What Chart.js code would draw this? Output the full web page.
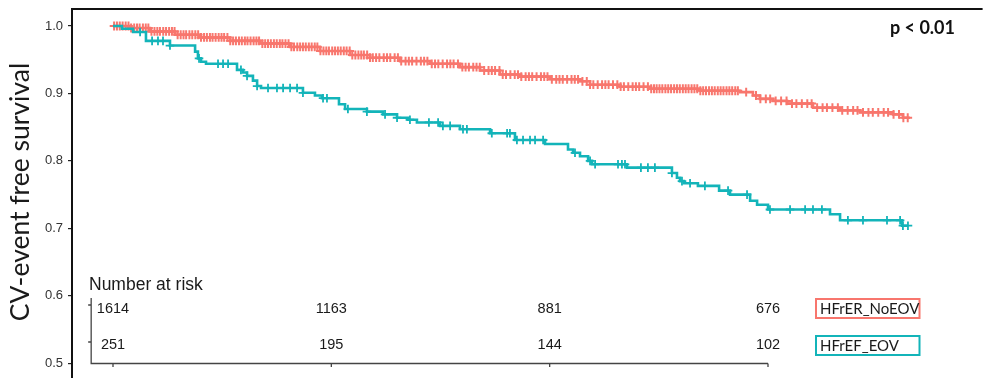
<!DOCTYPE html>
<html><head><meta charset="utf-8">
<script src="https://cdn.jsdelivr.net/npm/chart.js@4.4.1/dist/chart.umd.min.js"></script>
<style>html,body{margin:0;padding:0;background:#fff;overflow:hidden;width:989px;height:378px}canvas{display:block}</style>
</head><body>
<canvas id="c" width="989" height="400"></canvas>
<script>
// ---------- data ----------
const groupNames = ['HFrER_NoEOV', 'HFrEF_EOV'];
const groupColors = ['#F8766D', '#13B4B9'];

// Kaplan-Meier steps (time in years, survival after the step)
const noEovTimes = [0, 0.078, 0.169, 0.284, 0.398, 0.536, 0.673, 0.811, 0.948, 1.086, 1.177, 1.315, 1.452, 1.589, 1.681, 1.772, 1.864, 2.002, 2.139, 2.185, 2.322, 2.460, 2.689, 2.872, 2.931, 2.963, 3.023, 3.087, 3.206, 3.330, 3.421, 3.573, 3.618, 3.650];
const noEovSurv  = [1.000, 0.997, 0.992, 0.987, 0.983, 0.978, 0.974, 0.969, 0.963, 0.957, 0.953, 0.948, 0.944, 0.939, 0.934, 0.928, 0.925, 0.921, 0.918, 0.913, 0.910, 0.907, 0.904, 0.902, 0.897, 0.892, 0.889, 0.885, 0.879, 0.875, 0.872, 0.869, 0.864, 0.864];

const eovTimes = [0, 0.041, 0.092, 0.151, 0.261, 0.376, 0.389, 0.403, 0.426, 0.568, 0.595, 0.614, 0.641, 0.660, 0.678, 0.870, 0.925, 0.957, 1.035, 1.063, 1.163, 1.237, 1.301, 1.351, 1.392, 1.498, 1.589, 1.727, 1.841, 1.979, 2.084, 2.107, 2.139, 2.176, 2.194, 2.354, 2.560, 2.583, 2.597, 2.615, 2.679, 2.776, 2.826, 2.918, 2.950, 3.000, 3.284, 3.330, 3.614, 3.641];
const eovSurv  = [1.000, 0.996, 0.991, 0.978, 0.971, 0.962, 0.952, 0.947, 0.944, 0.935, 0.931, 0.926, 0.919, 0.911, 0.908, 0.901, 0.897, 0.893, 0.884, 0.877, 0.873, 0.869, 0.864, 0.861, 0.857, 0.852, 0.847, 0.841, 0.831, 0.825, 0.817, 0.812, 0.807, 0.800, 0.795, 0.790, 0.782, 0.775, 0.770, 0.767, 0.763, 0.756, 0.750, 0.741, 0.735, 0.728, 0.721, 0.712, 0.704, 0.704];

// censoring times (years)
const noEovCensor = [0.005,0.018,0.031,0.044,0.058,0.071,0.083,0.097,0.11,0.122,0.137,0.15,0.162,0.176,0.19,0.203,0.215,0.23,0.243,0.257,0.27,0.282,0.296,0.31,0.323,0.335,0.35,0.363,0.377,0.39,0.403,0.417,0.43,0.444,0.456,0.47,0.484,0.497,0.509,0.524,0.537,0.55,0.563,0.577,0.59,0.604,0.616,0.63,0.644,0.657,0.669,0.684,0.697,0.71,0.723,0.737,0.75,0.764,0.776,0.79,0.804,0.817,0.829,0.844,0.857,0.87,0.883,0.897,0.91,0.924,0.936,0.95,0.964,0.977,0.989,1.004,1.017,1.03,1.043,1.057,1.07,1.084,1.096,1.11,1.124,1.137,1.149,1.164,1.177,
  1.19,1.205,1.22,1.24,1.255,1.27,1.29,1.305,1.32,1.34,1.355,1.37,1.39,1.41,1.425,1.44,1.46,1.475,1.49,1.51,1.53,1.545,1.56,1.58,1.6,1.615,1.63,1.65,1.665,1.68,1.70,1.72,1.735,1.75,1.77,1.785,1.80,1.82,1.84,1.855,1.87,1.89,1.905,1.92,1.94,1.96,1.975,1.99,2.01,2.03,2.045,2.06,2.08,2.10,2.115,2.13,2.15,2.17,2.185,2.20,2.22,2.24,2.255,2.27,2.29,2.31,2.325,2.34,2.36,2.38,2.395,2.41,2.43,2.45,
  2.465,2.478,2.49,2.503,2.516,2.53,2.543,2.556,2.57,2.583,2.596,2.61,2.623,2.636,2.65,2.663,2.676,2.69,2.703,2.716,2.73,2.743,2.756,2.77,2.783,2.796,2.81,2.823,2.836,2.85,2.862,
  2.90,2.945,2.965,2.99,3.01,3.035,3.06,3.085,3.11,3.13,3.155,3.18,3.2,3.225,3.25,3.27,3.295,3.32,3.34,3.365,3.39,3.41,3.435,3.46,3.48,3.505,3.53,3.55,3.575,3.6,3.62,3.64];
const eovCensor = [0.124,0.179,0.206,0.229,0.261,0.394,0.481,0.504,0.527,0.586,0.614,0.660,0.710,0.751,0.779,0.811,0.843,0.870,0.962,0.980,1.076,1.163,1.246,1.301,1.360,1.447,1.489,1.511,1.544,1.603,1.621,1.735,1.805,1.818,1.850,1.878,1.910,1.933,1.970,2.116,2.185,2.208,2.313,2.331,2.345,2.418,2.450,2.482,2.560,2.606,2.643,2.711,2.817,2.904,3.009,3.101,3.170,3.206,3.247,3.366,3.435,3.545,3.605,3.618,3.641];

// number at risk table
const riskTimes = [0, 1, 2, 3];
const riskNoEov = [1614, 1163, 881, 676];
const riskEov   = [251, 195, 144, 102];

const yTitle = 'CV-event free survival';
const riskTitle = 'Number at risk';
const pValueText = 'p < 0.01';

// ---------- layout anchors (pixels) ----------
const PX = { t0: 113, t3: 768, y1: 26, y05: 363.3, frameTop: 9, titleX: 20, titleY: 192 };

// ---------- helpers ----------
function survAt(times, surv, t) {
  let v = surv[0];
  for (let i = 0; i < times.length; i++) { if (times[i] <= t) v = surv[i]; else break; }
  return v;
}
const toXY = (ts, ss) => ts.map((t, i) => ({ x: t, y: ss[i] }));
const censorXY = (cs, ts, ss) => cs.map(t => ({ x: t, y: survAt(ts, ss, t) }));

// ---------- plugins ----------
const framePlugin = {
  id: 'frame',
  afterDatasetsDraw(chart) {
    const { ctx, chartArea } = chart;
    ctx.save();
    ctx.strokeStyle = '#111';
    ctx.lineWidth = 2;
    ctx.beginPath();
    ctx.moveTo(chartArea.left, chartArea.top + 1);
    ctx.lineTo(chartArea.left, PX.frameTop - 1);
    ctx.moveTo(chartArea.left - 1, PX.frameTop);
    ctx.lineTo(chartArea.right, PX.frameTop);
    ctx.stroke();
    // y axis title
    ctx.translate(PX.titleX, PX.titleY);
    ctx.rotate(-Math.PI / 2);
    ctx.fillStyle = '#1a1a1a';
    ctx.font = '26.5px Lato, "Open Sans", sans-serif';
    ctx.textAlign = 'center';
    ctx.textBaseline = 'middle';
    ctx.fillText(yTitle, 0, 0);
    ctx.restore();
  }
};

const insetPlugin = {
  id: 'inset',
  afterDraw(chart) {
    const { ctx } = chart;
    const xs = chart.scales.x;
    const axLeft = xs.getPixelForValue(-0.1);
    const axRight = xs.getPixelForValue(riskTimes[riskTimes.length - 1]);
    const axTop = 298, axBottom = 363.5;
    const rowTick = [305, 342];
    const rowBase = [313, 348.5];
    ctx.save();
    ctx.strokeStyle = '#444';
    ctx.lineWidth = 1.3;
    ctx.beginPath();
    ctx.moveTo(axLeft, axTop); ctx.lineTo(axLeft, axBottom); ctx.lineTo(axRight, axBottom);
    rowTick.forEach(y => { ctx.moveTo(axLeft - 3, y); ctx.lineTo(axLeft, y); });
    riskTimes.forEach(t => { const x = xs.getPixelForValue(t); ctx.moveTo(x, axBottom); ctx.lineTo(x, axBottom + 3.5); });
    ctx.stroke();

    ctx.fillStyle = '#1a1a1a';
    ctx.font = '17.5px "Liberation Sans", Arial, sans-serif';
    ctx.textAlign = 'left';
    ctx.textBaseline = 'alphabetic';
    ctx.fillText(riskTitle, 89, 289.5);

    ctx.font = '14.5px "Liberation Sans", Arial, sans-serif';
    ctx.textAlign = 'center';
    [riskNoEov, riskEov].forEach((row, r) => {
      row.forEach((n, i) => ctx.fillText(String(n), xs.getPixelForValue(riskTimes[i]), rowBase[r]));
    });

    // group label boxes
    const boxX = 816, boxW = 103.5, boxH = 19, boxY = [299, 336];
    ctx.font = '15px Lato, "Open Sans", sans-serif';
    ctx.textAlign = 'left';
    groupNames.forEach((g, i) => {
      ctx.strokeStyle = groupColors[i];
      ctx.lineWidth = 2;
      ctx.strokeRect(boxX, boxY[i], boxW, boxH);
      ctx.fillStyle = '#1a1a1a';
      ctx.fillText(g, boxX + 4, boxY[i] + 15);
    });

    // p value
    ctx.font = 'bold 18px Lato, "Open Sans", sans-serif';
    ctx.textAlign = 'right';
    ctx.fillStyle = '#111';
    ctx.fillText(pValueText, 955, 33.5);
    ctx.restore();
  }
};

// ---------- chart ----------
const chart = new Chart(document.getElementById('c'), {
  type: 'scatter',
  data: {
    datasets: [
      { label: groupNames[1], data: toXY(eovTimes, eovSurv), showLine: true, stepped: 'before',
        borderColor: groupColors[1], borderWidth: 2.6, pointRadius: 0, fill: false },
      { label: groupNames[1] + ' censored', data: censorXY(eovCensor, eovTimes, eovSurv), showLine: false,
        pointStyle: 'cross', pointRadius: 4.3, borderColor: groupColors[1], pointBorderWidth: 1.8, backgroundColor: groupColors[1] },
      { label: groupNames[0], data: toXY(noEovTimes, noEovSurv), showLine: true, stepped: 'before',
        borderColor: groupColors[0], borderWidth: 2.6, pointRadius: 0, fill: false },
      { label: groupNames[0] + ' censored', data: censorXY(noEovCensor, noEovTimes, noEovSurv), showLine: false,
        pointStyle: 'cross', pointRadius: 4.4, borderColor: groupColors[0], pointBorderWidth: 2, backgroundColor: groupColors[0] }
    ]
  },
  options: {
    responsive: false,
    animation: false,
    events: [],
    layout: { padding: { top: 6, right: 0, bottom: 0, left: 0 } },
    plugins: { legend: { display: false }, tooltip: { enabled: false } },
    scales: {
      x: { type: 'linear', min: -0.1878, max: 4.0122, display: false },
      y: {
        type: 'linear', min: 0.4782, max: 1.0252,
        afterFit(scale) { scale.width = 72; },
        border: { display: true, color: '#111', width: 2 },
        grid: { drawOnChartArea: false, drawTicks: true, tickLength: 4, color: '#222', lineWidth: 1.2 },
        ticks: { stepSize: 0.1, includeBounds: false, padding: 5, color: '#333',
          font: { family: '"Liberation Sans", Arial, sans-serif', size: 13 },
          callback: v => Number(v).toFixed(1) },
        title: { display: false }
      }
    }
  },
  plugins: [framePlugin, insetPlugin]
});

// calibrate the scale ranges so that t=0..3 and S=0.5..1.0 land on the reference positions
(function calibrate() {
  const a = chart.chartArea;
  const ppuX = (PX.t3 - PX.t0) / 3;
  const ppuY = (PX.y05 - PX.y1) / 0.5;
  const xo = chart.options.scales.x, yo = chart.options.scales.y;
  xo.min = -(PX.t0 - a.left) / ppuX;
  xo.max = xo.min + (a.right - a.left) / ppuX;
  yo.max = 1.0 + (PX.y1 - a.top) / ppuY;
  yo.min = 0.5 - (a.bottom - PX.y05) / ppuY;
  chart.update();
})();
</script>
</body></html>
